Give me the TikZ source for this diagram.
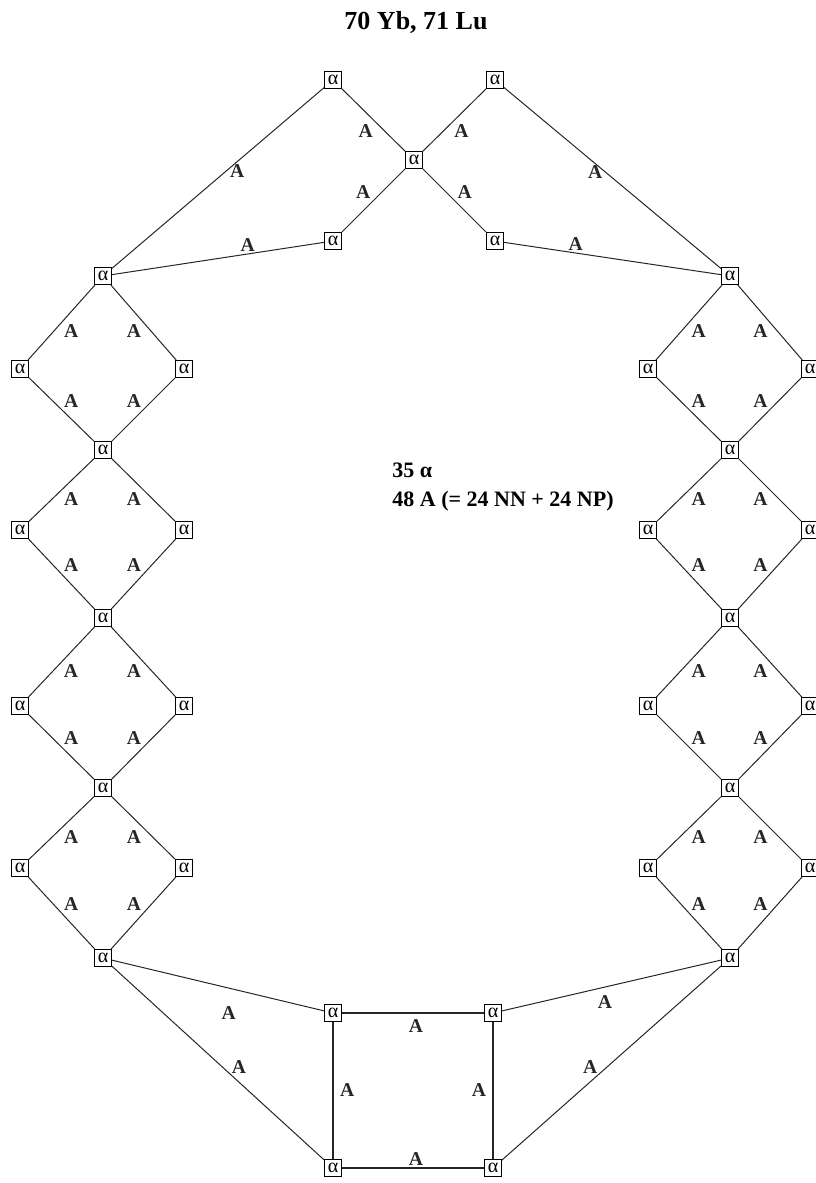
\documentclass[tikz,border=0pt]{standalone}
\usepackage{fontspec}
\setmainfont{Liberation Serif}
\usetikzlibrary{positioning}
\tikzset{
  alf/.style={draw, line width=0.5pt, fill=white, inner sep=0.3pt, minimum size=8.5pt, font=\fontsize{10}{10}\selectfont},
  lbl/.style={font=\bfseries\fontsize{9.8}{10}\selectfont, inner sep=1pt},
  bond/.style={line width=0.5pt, black!85},
  ring/.style={line width=1pt, black!85}
}

\begin{document}
\begin{tikzpicture}[x=0.5pt, y=-0.5pt]
    \useasboundingbox (0,0) rectangle (815,1183);

    % Title and counts
    \node[font=\bfseries\fontsize{13}{15}\selectfont, anchor=base] (title) at (416,29) {70 Yb, 71 Lu};
    \node[font=\bfseries\fontsize{11}{13}\selectfont, anchor=base west, inner sep=0pt] (nalpha) at (392,477) {35 α};
    \node[font=\bfseries\fontsize{11}{13}\selectfont, anchor=base west, inner sep=0pt] (nbond) at (392,506) {48 A (= 24 NN + 24 NP)};

    % Top cross
    \node[alf] (t1) at (333,80) {α};
    \node[alf] (t2) at (495,80) {α};
    \node[alf] (x) at (414,160) {α};
    \node[alf] (b1) at (333,241) {α};
    \node[alf] (b2) at (495,241) {α};

    % Spines of both chains
    \foreach \i/\yy in {0/276, 1/450, 2/618, 3/788, 4/958} {
      \node[alf] (l\i) at (103,\yy) {α};
      \node[alf] (r\i) at (730,\yy) {α};
    }
    % Side corners of the diamonds
    \foreach \i/\yy in {1/369, 2/530, 3/706, 4/868} {
      \node[alf] (lo\i) at (20,\yy) {α};
      \node[alf] (li\i) at (184,\yy) {α};
      \node[alf] (ri\i) at (648,\yy) {α};
      \node[alf] (ro\i) at (810,\yy) {α};
    }

    % Bottom square
    \node[alf] (s1) at (333,1013) {α};
    \node[alf] (s2) at (493,1013) {α};
    \node[alf] (s3) at (333,1168) {α};
    \node[alf] (s4) at (493,1168) {α};

    % Top bonds
    \draw[bond] (t1) -- node[lbl, pos=0.41, below] {A} (l0);
    \draw[bond] (t2) -- node[lbl, pos=0.42, below] {A} (r0);
    \draw[bond] (l0) -- node[lbl, pos=0.64, above] {A} (b1);
    \draw[bond] (b2) -- node[lbl, pos=0.33, above] {A} (r0);
    \draw[bond] (t1) -- node[lbl, pos=0.53, below left] {A} (x);
    \draw[bond] (t2) -- node[lbl, pos=0.54, below right] {A} (x);
    \draw[bond] (x) -- node[lbl, pos=0.51, above left] {A} (b1);
    \draw[bond] (x) -- node[lbl, pos=0.51, above right] {A} (b2);

    % Diamonds
    \foreach \i/\j in {1/0, 2/1, 3/2, 4/3} {
      \draw[bond] (l\j) -- node[lbl, below right] {A} (lo\i) -- node[lbl, above right] {A} (l\i);
      \draw[bond] (l\j) -- node[lbl, below left] {A} (li\i) -- node[lbl, above left] {A} (l\i);
      \draw[bond] (r\j) -- node[lbl, below right] {A} (ri\i) -- node[lbl, above right] {A} (r\i);
      \draw[bond] (r\j) -- node[lbl, below left] {A} (ro\i) -- node[lbl, above left] {A} (r\i);
    }

    % Bottom bonds
    \draw[bond] (l4) -- node[lbl, pos=0.55, below=8pt] {A} (s1);
    \draw[bond] (l4) -- node[lbl, pos=0.56, above right=-1pt] {A} (s3);
    \draw[bond] (r4) -- node[lbl, pos=0.53, below=3pt] {A} (s2);
    \draw[bond] (r4) -- node[lbl, pos=0.56, above left=-1pt] {A} (s4);
    \draw[ring] (s1) -- node[lbl, pos=0.52, below=2pt] {A} (s2);
    \draw[ring] (s1) -- node[lbl, right=2pt] {A} (s3);
    \draw[ring] (s2) -- node[lbl, left=2pt] {A} (s4);
    \draw[ring] (s3) -- node[lbl, pos=0.52, above] {A} (s4);
\end{tikzpicture}
\end{document}
